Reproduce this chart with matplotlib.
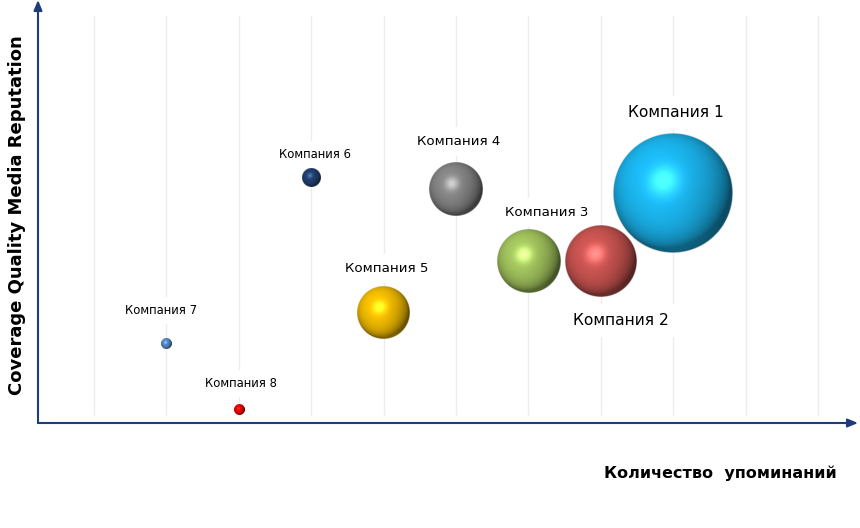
import numpy as np
import matplotlib
matplotlib.use("Agg")
import matplotlib.pyplot as plt
from matplotlib.colors import to_rgb

# bubble data
companies = ["Компания 1", "Компания 2", "Компания 3", "Компания 4",
             "Компания 5", "Компания 6", "Компания 7", "Компания 8"]
mentions = [9, 8, 7, 6, 5, 4, 2, 3]
reputation = [54.4, 38.2, 38.3, 55.3, 26.0, 57.9, 18.7, 3.1]
weight = [100, 36, 28, 20, 19, 2.3, 0.7, 0.7]

colors = ["#1aafe6", "#c0504d", "#9bbb59", "#7f7f7f",
          "#e8b400", "#1f3d6b", "#4f81bd", "#e00000"]
# label offsets in pixels and font sizes
label_off = [(3, 80), (20, -59), (18, 48), (3, 48), (3, 45), (4, 24), (-5, 33), (2, 26)]
label_fs = [11.2, 11.2, 9.6, 9.6, 9.6, 8.4, 8.4, 8.4]

W, H, DPI = 860, 528, 100
ax_left, ax_right, ax_top, ax_bottom = 38, 858, 0, 423
px_per_x = 72.4
xmin = 1 - (94 - ax_left) / px_per_x
xmax = 1 + (ax_right - 94) / px_per_x
ymin, ymax = 0, 100
px_per_y = (ax_bottom - ax_top) / (ymax - ymin)


def sphere(color, n=240):
    base = np.array(to_rgb(color))
    t = np.linspace(-1, 1, n)
    x, y = np.meshgrid(t, -t)
    r = np.sqrt(x ** 2 + y ** 2)
    z = np.sqrt(np.clip(1 - r ** 2, 0, 1))
    L = np.array([-0.3, 0.4, 0.87])
    L = L / np.linalg.norm(L)
    diff = np.clip(x * L[0] + y * L[1] + z * L[2], 0, 1)
    rz = 2 * diff * z - L[2]
    spec = np.clip(rz, 0, 1) ** 8
    # soft reflection from below
    B = np.array([0.0, -0.8, 0.6])
    B = B / np.linalg.norm(B)
    bounce = np.clip(x * B[0] + y * B[1] + z * B[2], 0, 1) ** 3
    shade = 0.42 + 0.68 * diff ** 0.8
    rgb = base[None, None, :] * shade[..., None]
    rgb = rgb + 0.15 * bounce[..., None] * base[None, None, :]
    rgb = rgb + 0.38 * spec[..., None] * (0.5 + 0.5 * base[None, None, :])
    rgb = np.clip(rgb, 0, 1)
    alpha = np.clip((1 - r) * n / 2.0, 0, 1)
    return np.dstack([rgb, alpha])


fig = plt.figure(figsize=(W / DPI, H / DPI), dpi=DPI)
ax = fig.add_axes([ax_left / W, 1 - ax_bottom / H,
                   (ax_right - ax_left) / W, (ax_bottom - ax_top) / H])
ax.set_xlim(xmin, xmax)
ax.set_ylim(ymin, ymax)
for s in ax.spines.values():
    s.set_visible(False)
ax.set_xticks([])
ax.set_yticks([])

# grid
ax.vlines(np.arange(1, 12), 8 / px_per_y, (ax_bottom - 15) / px_per_y,
          color="#ececec", lw=1, zorder=0)

# labels
for i, name in enumerate(companies):
    ax.annotate(name, (mentions[i], reputation[i]), xytext=label_off[i],
                textcoords="offset pixels", ha="center", va="center",
                fontsize=label_fs[i], color="black", zorder=2,
                bbox=dict(boxstyle="square,pad=0.6", fc="white", ec="none"))

# bubbles, largest first
order = np.argsort(weight)[::-1]
for i in order:
    r_px = 6 * np.sqrt(weight[i])
    hx = r_px / px_per_x
    hy = r_px / px_per_y
    ax.imshow(sphere(colors[i]), extent=(mentions[i] - hx, mentions[i] + hx,
                                         reputation[i] - hy, reputation[i] + hy),
              interpolation="bilinear", zorder=3, aspect="auto")
ax.set_xlim(xmin, xmax)
ax.set_ylim(ymin, ymax)

# axes with arrows
axis_col = "#1c3d7a"
ax.annotate("", xy=(1.0, 0), xytext=(0, 0), xycoords="axes fraction",
            arrowprops=dict(arrowstyle="-|>,head_length=0.6,head_width=0.25",
                            color=axis_col, lw=1.5, shrinkA=0, shrinkB=0),
            annotation_clip=False)
ax.annotate("", xy=(0, 1.0), xytext=(0, 0), xycoords="axes fraction",
            arrowprops=dict(arrowstyle="-|>,head_length=0.6,head_width=0.25",
                            color=axis_col, lw=1.5, shrinkA=0, shrinkB=0),
            annotation_clip=False)

fig.text(17 / W, 1 - 215 / H, "Coverage Quality Media Reputation",
         rotation=90, ha="center", va="center", fontsize=13, fontweight="bold")
fig.text(720 / W, 1 - 473 / H, "Количество  упоминаний",
         ha="center", va="center", fontsize=11.5, fontweight="bold")

fig.savefig("out.png", dpi=DPI)
